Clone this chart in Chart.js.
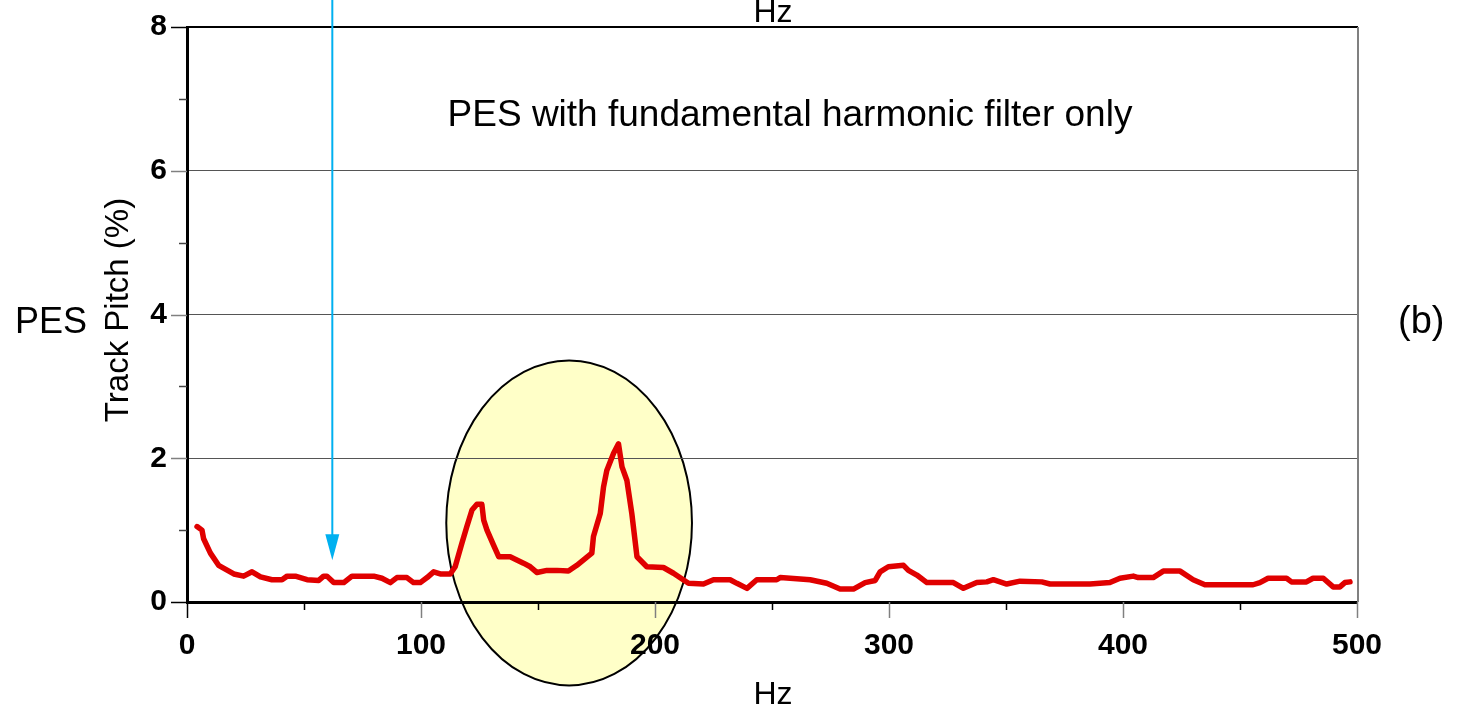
<!DOCTYPE html>
<html>
<head>
<meta charset="utf-8">
<script src="https://cdn.jsdelivr.net/npm/chart.js@4/dist/chart.umd.min.js"></script>
<style>
  html, body { margin: 0; padding: 0; background: #fff; }
  #wrap { width: 1459px; height: 720px; position: relative; }
</style>
</head>
<body>
<div id="wrap"><canvas id="c" width="1459" height="720"></canvas></div>
<script>
// Frequency (Hz) and track-pitch error (%) of the PES trace
const hz = [
  4.3, 6.4, 7.1, 10, 13.5, 20, 24.2, 27.8, 31.4, 36.3,
  40.6, 42.8, 46.3, 51.3, 56.3, 58.4, 59.8, 62.7, 67, 70.5,
  79.8, 83.3, 86.9, 89.7, 94, 96.8, 99.7, 102.6, 105.4, 108.2,
  112.5, 114.6, 117.5, 119.6, 121.8, 123.9, 126, 126.8, 128.2, 131,
  133.2, 138.1, 143.8, 146.7, 149.6, 153.8, 158.1, 163, 166.6, 173,
  173.7, 176.6, 178, 179.4, 182.3, 184.4, 185.9, 188, 190.1, 192.3,
  196.5, 203.6, 207.9, 214.3, 220.7, 225, 232.1, 235, 239.3, 243.5,
  252, 253.5, 266.3, 273.4, 279.1, 284.8, 289.8, 294.1, 296.2, 299.7,
  306.2, 308.3, 311.9, 316.2, 327.5, 331.8, 337.5, 341.8, 344.6, 350.3,
  356, 365.3, 368.8, 385.9, 394.4, 398.7, 404.4, 406.5, 412.9, 417.2,
  424.4, 430, 435, 455.6, 458.5, 462, 469.9, 472, 478.4, 481.2,
  485.6, 489.8, 492.7, 494.8, 497
];
const trackPitch = [
  1.05, 1.0, 0.88, 0.68, 0.51, 0.39, 0.36, 0.42, 0.35, 0.31,
  0.31, 0.36, 0.36, 0.31, 0.30, 0.36, 0.36, 0.27, 0.27, 0.36,
  0.36, 0.33, 0.27, 0.34, 0.34, 0.27, 0.27, 0.34, 0.42, 0.39,
  0.39, 0.49, 0.82, 1.05, 1.28, 1.36, 1.36, 1.14, 1.0, 0.79,
  0.63, 0.63, 0.54, 0.49, 0.41, 0.44, 0.44, 0.43, 0.51, 0.68,
  0.91, 1.23, 1.60, 1.83, 2.07, 2.20, 1.88, 1.69, 1.23, 0.63,
  0.49, 0.48, 0.40, 0.26, 0.25, 0.31, 0.31, 0.26, 0.19, 0.31,
  0.31, 0.34, 0.31, 0.26, 0.18, 0.18, 0.27, 0.30, 0.42, 0.49,
  0.51, 0.44, 0.375, 0.27, 0.27, 0.19, 0.27, 0.28, 0.31, 0.25,
  0.29, 0.28, 0.25, 0.25, 0.27, 0.33, 0.36, 0.34, 0.34, 0.43,
  0.43, 0.31, 0.24, 0.24, 0.27, 0.33, 0.33, 0.28, 0.28, 0.33,
  0.33, 0.21, 0.21, 0.27, 0.28
];

// Axis ranges and ticks
const xMajorTicks = [0, 100, 200, 300, 400, 500];
const xMinorTicks = [50, 150, 250, 350, 450];
const yMajorTicks = [0, 2, 4, 6, 8];
const yMinorTicks = [1, 3, 5, 7];

// Highlighted resonance region (centre and radii in data units)
const highlight = { hz: 163.3, value: 1.10, rHz: 52.5, rValue: 2.26 };
// Arrow marking the filtered frequency
const marker = { hz: 62.1, tipValue: 0.58 };

const FONT = "'Liberation Sans', Arial, Helvetica, sans-serif";

const decorations = {
  id: 'decorations',
  beforeDraw(chart) {
    const { ctx, scales: { x, y } } = chart;
    const cx = x.getPixelForValue(highlight.hz);
    const cy = y.getPixelForValue(highlight.value);
    const rx = x.getPixelForValue(highlight.hz + highlight.rHz) - cx;
    const ry = cy - y.getPixelForValue(highlight.value + highlight.rValue);
    ctx.save();
    ctx.beginPath();
    ctx.ellipse(cx, cy, rx, ry, 0, 0, Math.PI * 2);
    ctx.fillStyle = '#ffffc8';
    ctx.fill();
    ctx.lineWidth = 2;
    ctx.strokeStyle = '#000';
    ctx.stroke();
    ctx.restore();
  },
  afterDraw(chart) {
    const { ctx, chartArea: a, scales: { x, y } } = chart;
    ctx.save();
    // frame: black top, grey right
    ctx.strokeStyle = '#000';
    ctx.lineWidth = 2;
    ctx.beginPath(); ctx.moveTo(a.left, a.top); ctx.lineTo(a.right + 1, a.top); ctx.stroke();
    ctx.strokeStyle = '#808080';
    ctx.beginPath(); ctx.moveTo(a.right + 1, a.top); ctx.lineTo(a.right + 1, a.bottom); ctx.stroke();

    // tick marks
    ctx.lineWidth = 1.5;
    xMajorTicks.forEach(v => {
      const px = Math.round(x.getPixelForValue(v)) + 0.5;
      ctx.strokeStyle = v === 0 ? '#000' : '#808080';
      ctx.beginPath(); ctx.moveTo(px, a.bottom); ctx.lineTo(px, a.bottom + 16); ctx.stroke();
    });
    xMinorTicks.forEach(v => {
      const px = Math.round(x.getPixelForValue(v)) + 0.5;
      ctx.strokeStyle = '#000';
      ctx.beginPath(); ctx.moveTo(px, a.bottom); ctx.lineTo(px, a.bottom + 8); ctx.stroke();
    });
    yMajorTicks.forEach(v => {
      const py = Math.round(y.getPixelForValue(v)) + 0.5;
      ctx.strokeStyle = (v === 0 || v === 8) ? '#000' : '#808080';
      ctx.beginPath(); ctx.moveTo(a.left - 16, py); ctx.lineTo(a.left, py); ctx.stroke();
    });
    yMinorTicks.forEach(v => {
      const py = Math.round(y.getPixelForValue(v)) + 0.5;
      ctx.strokeStyle = '#444';
      ctx.beginPath(); ctx.moveTo(a.left - 8, py); ctx.lineTo(a.left, py); ctx.stroke();
    });

    // arrow
    const ax = x.getPixelForValue(marker.hz);
    const tip = y.getPixelForValue(marker.tipValue);
    ctx.strokeStyle = '#00b0f0';
    ctx.fillStyle = '#00b0f0';
    ctx.lineWidth = 2;
    ctx.beginPath(); ctx.moveTo(ax, 0); ctx.lineTo(ax, tip - 20); ctx.stroke();
    ctx.beginPath();
    ctx.moveTo(ax - 7, tip - 26);
    ctx.lineTo(ax + 7, tip - 26);
    ctx.lineTo(ax, tip);
    ctx.closePath();
    ctx.fill();

    // texts
    ctx.fillStyle = '#000';
    ctx.textBaseline = 'alphabetic';
    ctx.textAlign = 'center';
    ctx.font = `32px ${FONT}`;
    ctx.fillText('Hz', 773, 22);
    ctx.fillText('Hz', 773, 704);
    ctx.font = `37px ${FONT}`;
    ctx.fillText('PES with fundamental harmonic filter only', 790, 126);
    ctx.textAlign = 'left';
    ctx.font = `36px ${FONT}`;
    ctx.fillText('PES', 15, 333);
    ctx.font = `38px ${FONT}`;
    ctx.fillText('(b)', 1398, 333);

    ctx.translate(128, 310);
    ctx.rotate(-Math.PI / 2);
    ctx.textAlign = 'center';
    ctx.font = `33px ${FONT}`;
    ctx.fillText('Track Pitch (%)', 0, 0);
    ctx.restore();
  }
};

new Chart(document.getElementById('c'), {
  type: 'line',
  data: {
    datasets: [{
      data: hz.map((h, i) => ({ x: h, y: trackPitch[i] })),
      borderColor: '#e00000',
      borderWidth: 5.5,
      pointRadius: 0,
      tension: 0,
      fill: false,
      borderJoinStyle: 'round',
      borderCapStyle: 'round'
    }]
  },
  options: {
    responsive: false,
    animation: false,
    layout: { padding: { left: 0, top: 27, right: 102, bottom: 0 } },
    plugins: { legend: { display: false }, tooltip: { enabled: false } },
    scales: {
      x: {
        type: 'linear',
        min: 0, max: 500,
        afterBuildTicks: s => { s.ticks = xMajorTicks.map(v => ({ value: v })); },
        afterFit: s => { s.height = 118; s.paddingLeft = 0; s.paddingRight = 0; },
        grid: { drawOnChartArea: false, drawTicks: false },
        border: { color: '#000', width: 3 },
        ticks: {
          padding: 26,
          color: '#000',
          font: { family: FONT, size: 30, weight: 'bold' },
          maxRotation: 0
        }
      },
      y: {
        type: 'linear',
        min: 0, max: 8,
        afterBuildTicks: s => { s.ticks = yMajorTicks.map(v => ({ value: v })); },
        afterFit: s => { s.width = 187; s.paddingTop = 0; s.paddingBottom = 0; },
        grid: {
          drawTicks: false,
          color: c => (c.tick && (c.tick.value === 0 || c.tick.value === 8)) ? 'rgba(0,0,0,0)' : '#555',
          lineWidth: 1
        },
        border: { color: '#000', width: 3 },
        ticks: {
          padding: 20,
          color: '#000',
          font: { family: FONT, size: 30, weight: 'bold' }
        }
      }
    }
  },
  plugins: [decorations]
});
</script>
</body>
</html>
